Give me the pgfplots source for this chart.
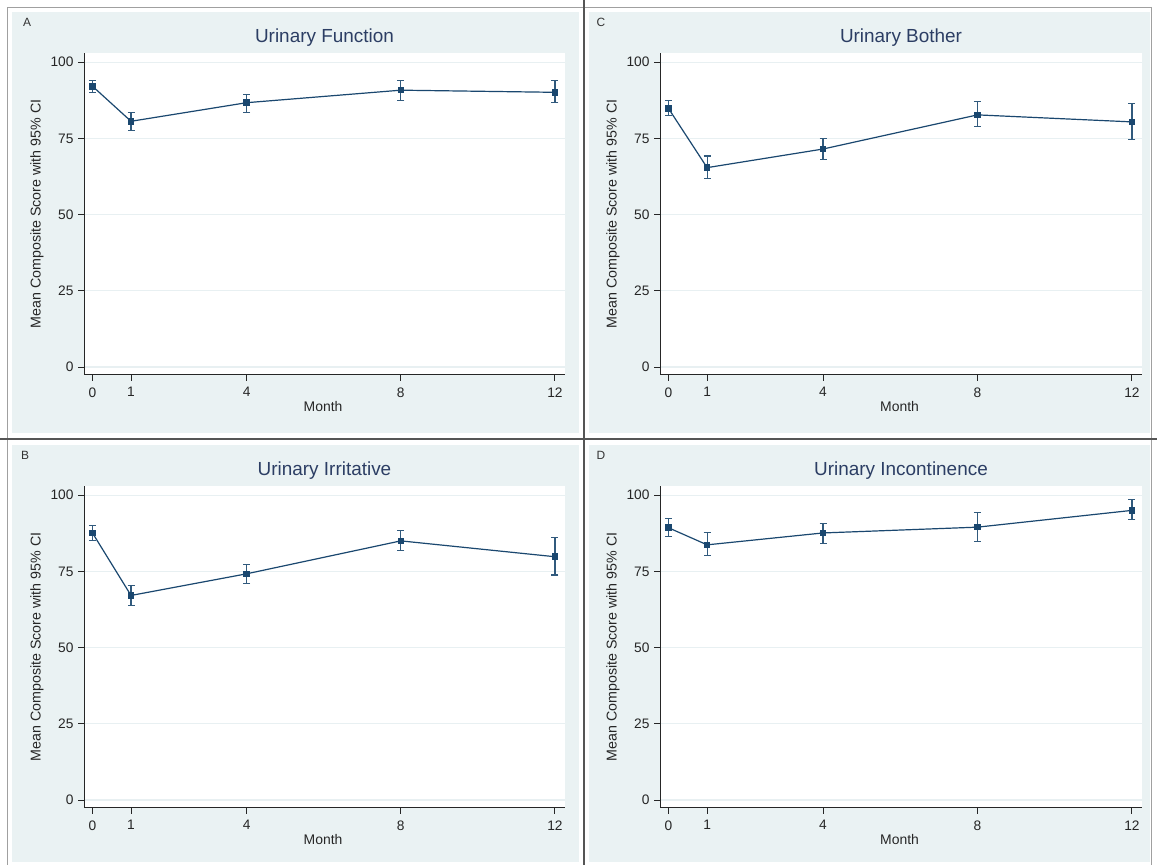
\documentclass[border=0pt]{standalone}
\usepackage{fontspec}
\setmainfont{Liberation Sans}
\usepackage{pgfplots}
\pgfplotsset{compat=1.18}
\definecolor{stbg}{RGB}{234,242,243}
\definecolor{stnavy}{RGB}{26,71,111}
\definecolor{sttitle}{RGB}{44,62,100}
\definecolor{stgrid}{RGB}{232,240,242}
\definecolor{stframe}{RGB}{160,160,160}
\definecolor{stdiv}{RGB}{85,85,85}

\pgfplotsset{
 stata/.style={
   scale only axis, width=481bp, height=322bp, anchor=south west,
   xmin=-0.22, xmax=12.26, ymin=-2.6, ymax=103,
   axis x line*=bottom, axis y line*=left,
   axis line style={-, black!85, line width=1bp},
   xtick={0,1,4,8,12}, ytick={0,25,50,75,100},
   tick align=outside, major tick length=6bp,
   tick style={black!85, line width=1bp},
   ymajorgrids, major grid style={stgrid, line width=1.2bp},
   axis background/.style={fill=white},
   ticklabel style={font=\fontsize{13.8}{14}\selectfont, text=black!85},
   /pgf/number format/assume math mode=true,
   yticklabel style={xshift=-1bp},
   xticklabel style={yshift=-3bp},
   xlabel={Month}, ylabel={Mean Composite Score with 95\% CI},
   every axis x label/.style={at={(axis description cs:0.497,-0.098)}, anchor=center, font=\fontsize{14}{15}\selectfont, text=black!85},
   every axis y label/.style={at={(axis description cs:-0.0977,0.5)}, anchor=center, rotate=90, font=\fontsize{14.3}{15}\selectfont, text=black!85},
   every axis title/.style={at={(axis description cs:0.5,1.047)}, anchor=center, font=\fontsize{19}{20}\selectfont, text=sttitle},
   clip=false,
 },
 ser/.style={stnavy, line width=1.2bp, mark=square*, mark size=2.7bp,
   mark options={solid, fill=stnavy},
   error bars/y dir=both, error bars/y explicit,
   error bars/error bar style={line width=1.1bp, stnavy!90},
   error bars/error mark options={rotate=90, mark size=3.5bp, line width=1.1bp, stnavy!90}}
}

\begin{document}
\begin{tikzpicture}[x=1bp,y=1bp]
% background
\fill[white] (0,0) rectangle (1157,865);
\draw[stframe, line width=0.8bp] (7,0) -- (7,858) -- (1151,858) -- (1151,0);
% panel regions
\fill[stbg] (12,432) rectangle (579,853);
\fill[stbg] (589,432) rectangle (1150,853);
\fill[stbg] (12,3) rectangle (579,420);
\fill[stbg] (589,3) rectangle (1150,420);
% dividers
\draw[stdiv, line width=2.5bp] (584,0) -- (584,865);
\draw[stdiv, line width=2.5bp] (0,426) -- (1157,426);
% panel letters
\node[font=\fontsize{12}{12}\selectfont, text=black!80] at (27,843) {A};
\node[font=\fontsize{12}{12}\selectfont, text=black!80] at (601,843) {C};
\node[font=\fontsize{12}{12}\selectfont, text=black!80] at (25,410) {B};
\node[font=\fontsize{12}{12}\selectfont, text=black!80] at (601,410) {D};

% A: Urinary Function
\begin{axis}[stata, at={(84bp,490bp)}, title={Urinary Function}]
\addplot[ser] coordinates {
 (0,92.1) += (0,1.9) -= (0,2.0)
 (1,80.6) += (0,3.0) -= (0,3.1)
 (4,86.7) += (0,2.7) -= (0,3.1)
 (8,90.8) += (0,3.2) -= (0,3.5)
 (12,90.1) += (0,3.9) -= (0,3.4)
};
\end{axis}

% C: Urinary Bother
\begin{axis}[stata, at={(660bp,490bp)}, width=482bp, title={Urinary Bother}]
\addplot[ser] coordinates {
 (0,84.8) += (0,2.5) -= (0,2.4)
 (1,65.4) += (0,3.8) -= (0,3.5)
 (4,71.5) += (0,3.5) -= (0,3.5)
 (8,82.7) += (0,4.3) -= (0,3.9)
 (12,80.4) += (0,5.9) -= (0,5.8)
};
\end{axis}

% B: Urinary Irritative
\begin{axis}[stata, at={(84bp,57bp)}, title={Urinary Irritative}]
\addplot[ser] coordinates {
 (0,87.6) += (0,2.3) -= (0,2.4)
 (1,67.1) += (0,3.2) -= (0,3.4)
 (4,74.2) += (0,3.1) -= (0,3.1)
 (8,85.0) += (0,3.3) -= (0,3.3)
 (12,79.8) += (0,6.3) -= (0,6.0)
};
\end{axis}

% D: Urinary Incontinence
\begin{axis}[stata, at={(660bp,57bp)}, width=482bp, title={Urinary Incontinence}]
\addplot[ser] coordinates {
 (0,89.3) += (0,3.0) -= (0,2.9)
 (1,83.7) += (0,3.9) -= (0,3.6)
 (4,87.6) += (0,3.2) -= (0,3.5)
 (8,89.5) += (0,4.7) -= (0,4.6)
 (12,95.0) += (0,3.6) -= (0,3.0)
};
\end{axis}

\pgfresetboundingbox
\path (0,0) rectangle (1157,865);
\end{tikzpicture}
\end{document}
